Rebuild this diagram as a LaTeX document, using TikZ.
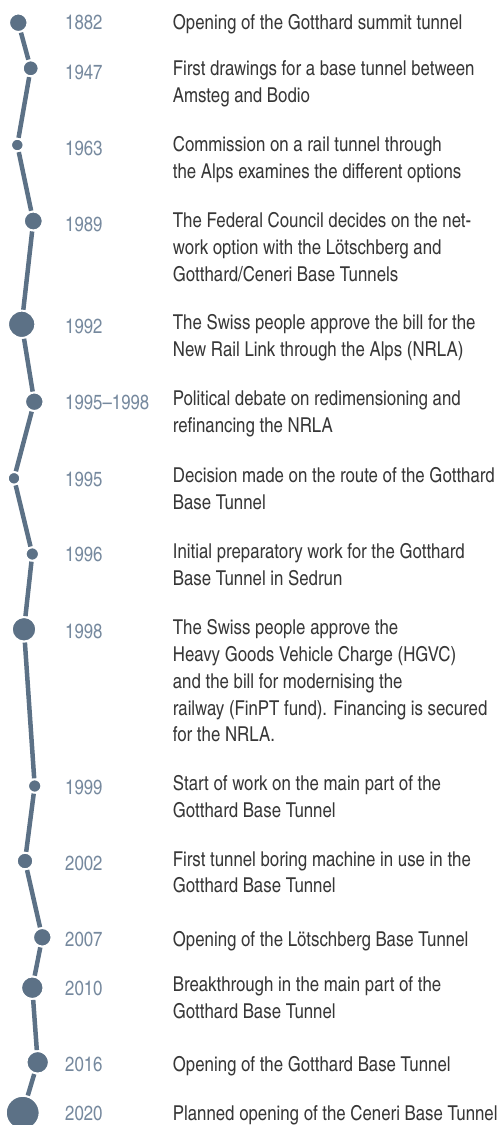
\documentclass[tikz,border=0pt]{standalone}
\usepackage{fontspec}
\setmainfont{texgyreheroscn}[Extension=.otf,UprightFont=*-regular]
\definecolor{rail}{RGB}{92,113,134}
\definecolor{yeartext}{RGB}{118,137,158}
\definecolor{desctext}{RGB}{55,55,55}
\begin{document}
\begin{tikzpicture}[x=1bp,y=-1bp,inner sep=0pt,
  font=\fontsize{20.5bp}{26.7bp}\selectfont,
  dot/.style={circle,fill=rail,draw=white,line width=2bp,minimum size=#1},
  year/.style={anchor=base west,text=yeartext},
  desc/.style={anchor=north west,yshift=18.69bp,align=left,text=desctext,
    execute at begin node=\strut}]
\useasboundingbox (0,0) rectangle (497,1125);
% dots on the rail
\node[dot=18.6] (d1882) at (18.3,22.7) {};
\node[dot=16]   (d1947) at (30.7,68.3) {};
\node[dot=12.6] (d1963) at (17.3,145) {};
\node[dot=19]   (d1989) at (33.3,221) {};
\node[dot=27.4] (d1992) at (21.7,324.3) {};
\node[dot=18.6] (d1995r) at (34.3,401.7) {};
\node[dot=12.6] (d1995) at (14,478.3) {};
\node[dot=13.4] (d1996) at (32.3,554) {};
\node[dot=24.6] (d1998) at (24,629.3) {};
\node[dot=13.4] (d1999) at (34.7,786) {};
\node[dot=16.6] (d2002) at (25,861) {};
\node[dot=18.6] (d2007) at (42.3,937.3) {};
\node[dot=22.6] (d2010) at (32.3,987.7) {};
\node[dot=22.6] (d2016) at (37.7,1062.3) {};
\node[dot=34]   (d2020) at (22.7,1112.7) {};
\foreach \a/\b in {1882/1947,1947/1963,1963/1989,1989/1992,1992/1995r,1995r/1995,
  1995/1996,1996/1998,1998/1999,1999/2002,2002/2007,2007/2010,2010/2016,2016/2020}
  \draw[rail,line width=4.5bp] (d\a) -- (d\b);
% years
\node[year] (y1882) at (65,29.3) {1882};
\node[year] (y1947) at (65,79) {1947};
\node[year] (y1963) at (65,155.3) {1963};
\node[year] (y1989) at (65,231) {1989};
\node[year] (y1992) at (65,333.3) {1992};
\node[year] (y1995r) at (65,409.3) {1995--1998};
\node[year] (y1995) at (65,486) {1995};
\node[year] (y1996) at (65,561.7) {1996};
\node[year] (y1998) at (65,638.3) {1998};
\node[year] (y1999) at (65,794.3) {1999};
\node[year] (y2002) at (65,870) {2002};
\node[year] (y2007) at (65,946.7) {2007};
\node[year] (y2010) at (65,995.3) {2010};
\node[year] (y2016) at (65,1071.7) {2016};
\node[year] (y2020) at (65,1120) {2020};
% events
\node[desc] (t1882) at (172.7,29.3) {Opening of the Gotthard summit tunnel};
\node[desc] (t1947) at (172.7,79) {First drawings for a base tunnel between\\Amsteg and Bodio};
\node[desc] (t1963) at (172.7,155.3) {Commission on a rail tunnel through\\the Alps examines the different options};
\node[desc] (t1989) at (172.7,231) {The Federal Council decides on the net-\\work option with the Lötschberg and\\Gotthard/Ceneri Base Tunnels};
\node[desc] (t1992) at (172.7,333.3) {The Swiss people approve the bill for the\\New Rail Link through the Alps (NRLA)};
\node[desc] (t1995r) at (172.7,409.3) {Political debate on redimensioning and\\refinancing the NRLA};
\node[desc] (t1995) at (172.7,486) {Decision made on the route of the Gotthard\\Base Tunnel};
\node[desc] (t1996) at (172.7,561.7) {Initial preparatory work for the Gotthard\\Base Tunnel in Sedrun};
\node[desc] (t1998) at (172.7,638.3) {The Swiss people approve the\\Heavy Goods Vehicle Charge (HGVC)\\and the bill for modernising the\\railway (FinPT fund). Financing is secured\\for the NRLA.};
\node[desc] (t1999) at (172.7,794.3) {Start of work on the main part of the\\Gotthard Base Tunnel};
\node[desc] (t2002) at (172.7,870) {First tunnel boring machine in use in the\\Gotthard Base Tunnel};
\node[desc] (t2007) at (172.7,946.7) {Opening of the Lötschberg Base Tunnel};
\node[desc] (t2010) at (172.7,995.3) {Breakthrough in the main part of the\\Gotthard Base Tunnel};
\node[desc] (t2016) at (172.7,1071.7) {Opening of the Gotthard Base Tunnel};
\node[desc] (t2020) at (172.7,1120) {Planned opening of the Ceneri Base Tunnel};
\end{tikzpicture}
\end{document}
